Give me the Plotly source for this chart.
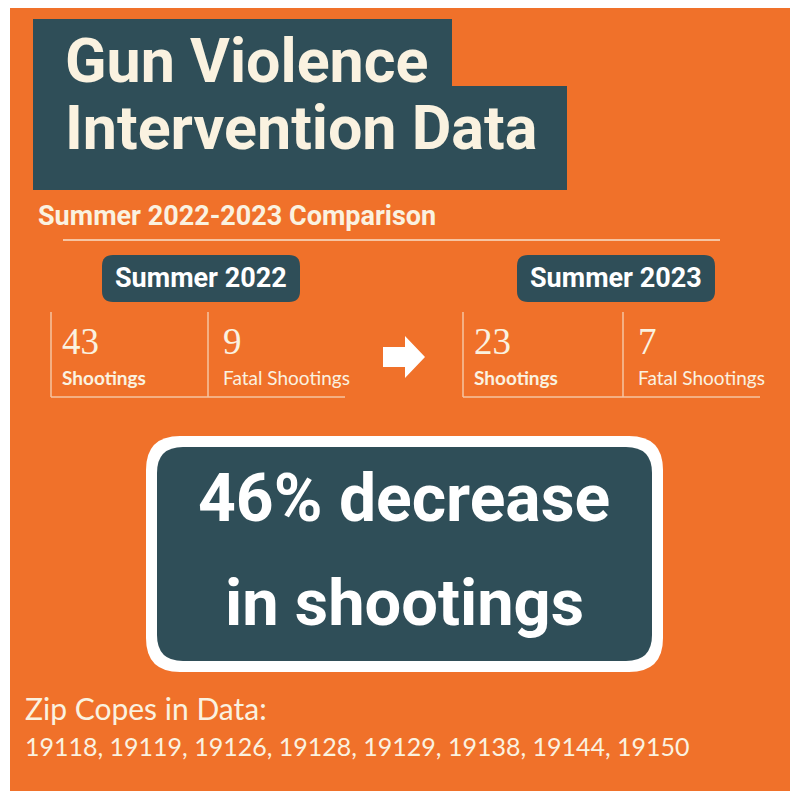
import plotly.graph_objects as go

# ---------------- data ----------------
title_lines = ["Gun Violence", "Intervention Data"]
subtitle = "Summer 2022-2023 Comparison"
periods = ["Summer 2022", "Summer 2023"]
stat_labels = ["Shootings", "Fatal Shootings"]
shootings = [43, 23]
fatal_shootings = [9, 7]
decrease_pct = 46
zip_heading = "Zip Copes in Data:"
zip_codes = ["19118", "19119", "19126", "19128", "19129", "19138", "19144", "19150"]

# ---------------- style ----------------
W, H = 790, 791
ORANGE = "#F0712A"
DARK = "#2F4E58"
CREAM = "#FAF2E0"
LINE = "#F6C4A2"
COND = "Roboto, Inter, sans-serif"
ROUND = "Lato, Noto Sans, sans-serif"
SERIF = "Liberation Serif, DejaVu Serif, serif"


def rrect(x0, y0, x1, y1, r):
    return (f"M{x0+r},{y0} L{x1-r},{y0} Q{x1},{y0} {x1},{y0+r} "
            f"L{x1},{y1-r} Q{x1},{y1} {x1-r},{y1} L{x0+r},{y1} "
            f"Q{x0},{y1} {x0},{y1-r} L{x0},{y0+r} Q{x0},{y0} {x0+r},{y0} Z")


fig = go.Figure()
shapes = []
ann = []

# background
shapes.append(dict(type="rect", x0=10, y0=8, x1=790, y1=791, fillcolor=ORANGE, line_width=0, layer="below"))
# title box (stepped)
shapes.append(dict(type="path", path="M33,19 L452,19 L452,86 L567,86 L567,190 L33,190 Z",
                   fillcolor=DARK, line_width=0, layer="below"))
ann.append(dict(x=63, y=61, text=title_lines[0], xanchor="left", yanchor="middle",
                font=dict(family=COND, size=61, color=CREAM, weight="bold")))
ann.append(dict(x=63, y=128, text=title_lines[1], xanchor="left", yanchor="middle",
                font=dict(family=COND, size=61, color=CREAM, weight="bold")))
# subtitle
ann.append(dict(x=36, y=216, text=subtitle, xanchor="left", yanchor="middle",
                font=dict(family=COND, size=27, color=CREAM, weight="bold")))
shapes.append(dict(type="line", x0=63, y0=240, x1=720, y1=240, line=dict(color=LINE, width=2)))

# period groups
pill_x = [(102, 300), (517, 715)]
group_x = [(51, 208, 345), (463, 623, 760)]
for i, p in enumerate(periods):
    px0, px1 = pill_x[i]
    shapes.append(dict(type="path", path=rrect(px0, 255, px1, 302, 11), fillcolor=DARK, line_width=0))
    ann.append(dict(x=(px0 + px1) / 2, y=278, text=p, xanchor="center", yanchor="middle",
                    font=dict(family=COND, size=27, color="white", weight="bold")))
    gx0, gx1, gx2 = group_x[i]
    shapes.append(dict(type="line", x0=gx0, y0=312, x1=gx0, y1=397, line=dict(color=LINE, width=1.5)))
    shapes.append(dict(type="line", x0=gx1, y0=312, x1=gx1, y1=397, line=dict(color=LINE, width=1.5)))
    shapes.append(dict(type="line", x0=gx0, y0=397, x1=gx2, y1=397, line=dict(color=LINE, width=1.5)))
    vals = [shootings[i], fatal_shootings[i]]
    for j, xl in enumerate([gx0 + 9, gx1 + 13]):
        ann.append(dict(x=xl, y=341, text=str(vals[j]), xanchor="left", yanchor="middle",
                        font=dict(family=SERIF, size=37, color=CREAM)))
        ann.append(dict(x=xl, y=377, text=stat_labels[j], xanchor="left", yanchor="middle",
                        font=dict(family=ROUND, size=19, color=CREAM,
                                  weight="bold" if j == 0 else "normal")))

# arrow
shapes.append(dict(type="path", path="M383,347 L405,347 L405,336 L425,357 L405,378 L405,367 L383,367 Z",
                   fillcolor="white", line_width=0))

# big callout
shapes.append(dict(type="path", path=rrect(146, 436, 663, 672, 34), fillcolor="white", line_width=0))
shapes.append(dict(type="path", path=rrect(157, 447, 652, 661, 26), fillcolor=DARK, line_width=0))
ann.append(dict(x=404, y=498, text=f"{decrease_pct}% decrease", xanchor="center", yanchor="middle",
                font=dict(family=COND, size=66, color="white", weight="bold")))
ann.append(dict(x=404, y=603, text="in shootings", xanchor="center", yanchor="middle",
                font=dict(family=COND, size=65, color="white", weight="bold")))

# zip codes
ann.append(dict(x=23, y=708, text=zip_heading, xanchor="left", yanchor="middle",
                font=dict(family=ROUND, size=30, color=CREAM)))
ann.append(dict(x=23, y=746, text=", ".join(zip_codes), xanchor="left", yanchor="middle",
                font=dict(family=ROUND, size=25, color=CREAM)))

for a in ann:
    a.update(xref="x", yref="y", showarrow=False)

fig.update_layout(
    width=W, height=H, margin=dict(l=0, r=0, t=0, b=0),
    paper_bgcolor="white", plot_bgcolor="white",
    xaxis=dict(range=[0, W], visible=False, fixedrange=True),
    yaxis=dict(range=[H, 0], visible=False, fixedrange=True),
    shapes=shapes, annotations=ann, showlegend=False,
)
fig.write_html("out.html", config={"displayModeBar": False},
               post_script="document.body.style.margin='0px';")
